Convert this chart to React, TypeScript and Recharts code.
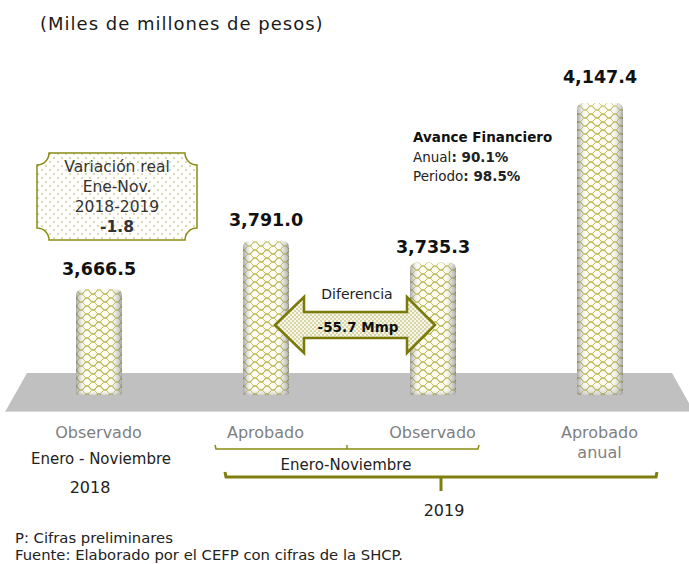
import { Bar, BarChart, LabelList, XAxis, YAxis } from "recharts"

const categories = ["Observado 2018", "Aprobado 2019", "Observado 2019", "Aprobado anual 2019"]
const values = [3666.5, 3791.0, 3735.3, 4147.4]
const tickLines = [["Observado"], ["Aprobado"], ["Observado"], ["Aprobado", "anual"]]
const variacion = ["Variación real", "Ene-Nov.", "2018-2019", "-1.8"]
const diferencia = ["Diferencia", "-55.7 Mmp"]
const avance = { anual: "90.1%", periodo: "98.5%" }
const footer = ["P: Cifras preliminares", "Fuente: Elaborado por el CEFP con cifras de la SHCP."]

const rows = categories.map((name, i) => ({ name, value: values[i] }))

const FONT = "'DejaVu Sans', sans-serif"
const OLIVE = "#8a8a14"

const fmt = (v: number) =>
    v.toLocaleString("en-US", { minimumFractionDigits: 1, maximumFractionDigits: 1 })

const Cylinder = (props: any) => {
    const { x, y, width, height } = props
    const r = 7
    const b = 3
    const d = `M${x},${y + r} Q${x},${y} ${x + r},${y} L${x + width - r},${y} Q${x + width},${y} ${x + width},${y + r} L${x + width},${y + height - b} Q${x + width},${y + height} ${x + width - b},${y + height} L${x + b},${y + height} Q${x},${y + height} ${x},${y + height - b} Z`
    return (
        <g>
            <path d={d} fill="url(#weave)" />
            <path d={d} fill="url(#shade)" />
            <path d={d} fill="url(#topShade)" />
        </g>
    )
}

// small nudges so the numbers sit like in the original
const labelLift = [14, 15, 9, 20]

const ValueLabel = (props: any) => {
    const { x, y, width, value, index } = props
    return (
        <text
            x={x + width / 2}
            y={y - labelLift[index]}
            textAnchor="middle"
            fontFamily={FONT}
            fontWeight="bold"
            fontSize={17.5}
            fill="#111"
        >
            {fmt(value)}
        </text>
    )
}

const CatTick = (props: any) => {
    const { x, y, index } = props
    return (
        <text x={x} y={y} textAnchor="middle" fontFamily={FONT} fontSize={16} fill="#7f7f7f">
            {tickLines[index].map((l, i) => (
                <tspan key={i} x={x} dy={i === 0 ? 35 : 20}>
                    {l}
                </tspan>
            ))}
        </text>
    )
}

const box = { x0: 37, y0: 153, x1: 197, y1: 240, r: 12 }
const boxPath = `M${box.x0 + box.r},${box.y0} L${box.x1 - box.r},${box.y0} A${box.r} ${box.r} 0 0 0 ${box.x1},${box.y0 + box.r} L${box.x1},${box.y1 - box.r} A${box.r} ${box.r} 0 0 0 ${box.x1 - box.r},${box.y1} L${box.x0 + box.r},${box.y1} A${box.r} ${box.r} 0 0 0 ${box.x0},${box.y1 - box.r} L${box.x0},${box.y0 + box.r} A${box.r} ${box.r} 0 0 0 ${box.x0 + box.r},${box.y0} Z`

const arrowPath = "M275,325 L304,297 L304,312 L407,312 L407,297 L435,325 L407,353 L407,338 L304,338 L304,353 Z"

export default function App() {
    return (
        <div style={{ position: "relative", width: 689, height: 564, background: "#fff" }}>
            <style>{`body{margin:0}`}</style>
            <svg width={689} height={564} style={{ position: "absolute", left: 0, top: 0 }}>
                <polygon points="27,373 672,373 694,412 5,412" fill="#c0c0c0" />
                <line x1={5} y1={411.5} x2={694} y2={411.5} stroke="#d8d8d8" strokeWidth={1} />
            </svg>
            <BarChart
                width={689}
                height={564}
                data={rows}
                margin={{ top: 60, right: 6, bottom: 139, left: 15 }}
                barSize={46}
                style={{ position: "absolute", left: 0, top: 0 }}
            >
                <defs>
                    <pattern id="weave" width={12} height={8} patternUnits="userSpaceOnUse">
                        <rect width={12} height={8} fill="#fdfdf4" />
                        <path d="M0,4 Q3,-0.5 6,4 T12,4" fill="none" stroke="#aeab3a" strokeWidth={1.1} />
                        <path d="M-6,8 Q-3,3.5 0,8 T6,8 T12,8 T18,8" fill="none" stroke="#bdbb52" strokeWidth={1} />
                        <path d="M-6,0 Q-3,-4.5 0,0 T6,0 T12,0 T18,0" fill="none" stroke="#bdbb52" strokeWidth={1} />
                    </pattern>
                    <linearGradient id="shade" x1="0" y1="0" x2="1" y2="0">
                        <stop offset="0" stopColor="#6a6a6a" stopOpacity={0.6} />
                        <stop offset="0.22" stopColor="#ffffff" stopOpacity={0} />
                        <stop offset="0.72" stopColor="#ffffff" stopOpacity={0} />
                        <stop offset="1" stopColor="#6a6a6a" stopOpacity={0.6} />
                    </linearGradient>
                    <linearGradient id="topShade" x1="0" y1="0" x2="0" y2="1">
                        <stop offset="0" stopColor="#ffffff" stopOpacity={0.35} />
                        <stop offset="0.04" stopColor="#ffffff" stopOpacity={0} />
                        <stop offset="0.95" stopColor="#ffffff" stopOpacity={0} />
                        <stop offset="1" stopColor="#808080" stopOpacity={0.35} />
                    </linearGradient>
                </defs>
                <XAxis
                    dataKey="name"
                    axisLine={false}
                    tickLine={false}
                    interval={0}
                    height={30}
                    tick={<CatTick />}
                />
                <YAxis hide domain={[3392.5, 4258.6]} allowDataOverflow />
                <Bar dataKey="value" shape={<Cylinder />} isAnimationActive={false}>
                    <LabelList dataKey="value" content={<ValueLabel />} />
                </Bar>
            </BarChart>
            <svg width={689} height={564} style={{ position: "absolute", left: 0, top: 0 }}>
                <defs>
                    <pattern id="dots" width={8} height={8} patternUnits="userSpaceOnUse">
                        <rect width={8} height={8} fill="#ffffff" />
                        <circle cx={2} cy={2} r={0.8} fill="#b0ac58" />
                        <circle cx={6} cy={6} r={0.8} fill="#b0ac58" />
                    </pattern>
                    <pattern id="fineDots" width={4} height={4} patternUnits="userSpaceOnUse">
                        <rect width={4} height={4} fill="#f6f6e4" />
                        <circle cx={1} cy={1} r={0.7} fill="#a09c40" />
                        <circle cx={3} cy={3} r={0.7} fill="#a09c40" />
                    </pattern>
                </defs>
                <text x={40} y={30} fontFamily={FONT} fontSize={18} letterSpacing={1} fill="#1a1a1a">
                    (Miles de millones de pesos)
                </text>

                <path d={boxPath} fill="url(#dots)" stroke={OLIVE} strokeWidth={1.5} />
                {variacion.map((t, i) => (
                    <text
                        key={i}
                        x={117}
                        y={172 + i * 20}
                        textAnchor="middle"
                        fontFamily={FONT}
                        fontSize={15.5}
                        fontWeight={i === 3 ? "bold" : "normal"}
                        fill="#333"
                    >
                        {t}
                    </text>
                ))}

                <text x={413} y={142} fontFamily={FONT} fontSize={13.5} fontWeight="bold" fill="#111">
                    Avance Financiero
                </text>
                <text x={413} y={162} fontFamily={FONT} fontSize={13.5} fill="#222">
                    Anual<tspan fontWeight="bold">: {avance.anual}</tspan>
                </text>
                <text x={413} y={181} fontFamily={FONT} fontSize={13.5} fill="#222">
                    Periodo<tspan fontWeight="bold">: {avance.periodo}</tspan>
                </text>

                <text x={357} y={299} textAnchor="middle" fontFamily={FONT} fontSize={14} fill="#222">
                    {diferencia[0]}
                </text>
                <path d={arrowPath} fill="url(#fineDots)" stroke="#7a7a0a" strokeWidth={2.5} strokeLinejoin="miter" />
                <text x={358} y={332} textAnchor="middle" fontFamily={FONT} fontSize={13.5} fontWeight="bold" fill="#111">
                    {diferencia[1]}
                </text>

                <text x={101} y={464} textAnchor="middle" fontFamily={FONT} fontSize={15} fill="#222">
                    Enero - Noviembre
                </text>
                <text x={90} y={493} textAnchor="middle" fontFamily={FONT} fontSize={16} fill="#222">
                    2018
                </text>

                <path d="M215,445 L216,449 L478,449 L479,445" fill="none" stroke={OLIVE} strokeWidth={1.5} />
                <line x1={347} y1={449} x2={347} y2={445} stroke={OLIVE} strokeWidth={1.5} />
                <text x={346} y={470} textAnchor="middle" fontFamily={FONT} fontSize={15} fill="#222">
                    Enero-Noviembre
                </text>

                <path d="M225,472 L226,477 L656,477 L657,472" fill="none" stroke="#7f7f10" strokeWidth={3} />
                <line x1={441} y1={477} x2={441} y2={491} stroke="#7f7f10" strokeWidth={3} />
                <text x={444} y={516} textAnchor="middle" fontFamily={FONT} fontSize={16} fill="#222">
                    2019
                </text>

                {footer.map((t, i) => (
                    <text key={i} x={15} y={543 + i * 17} fontFamily={FONT} fontSize={14.8} fill="#222">
                        {t}
                    </text>
                ))}
            </svg>
        </div>
    )
}
